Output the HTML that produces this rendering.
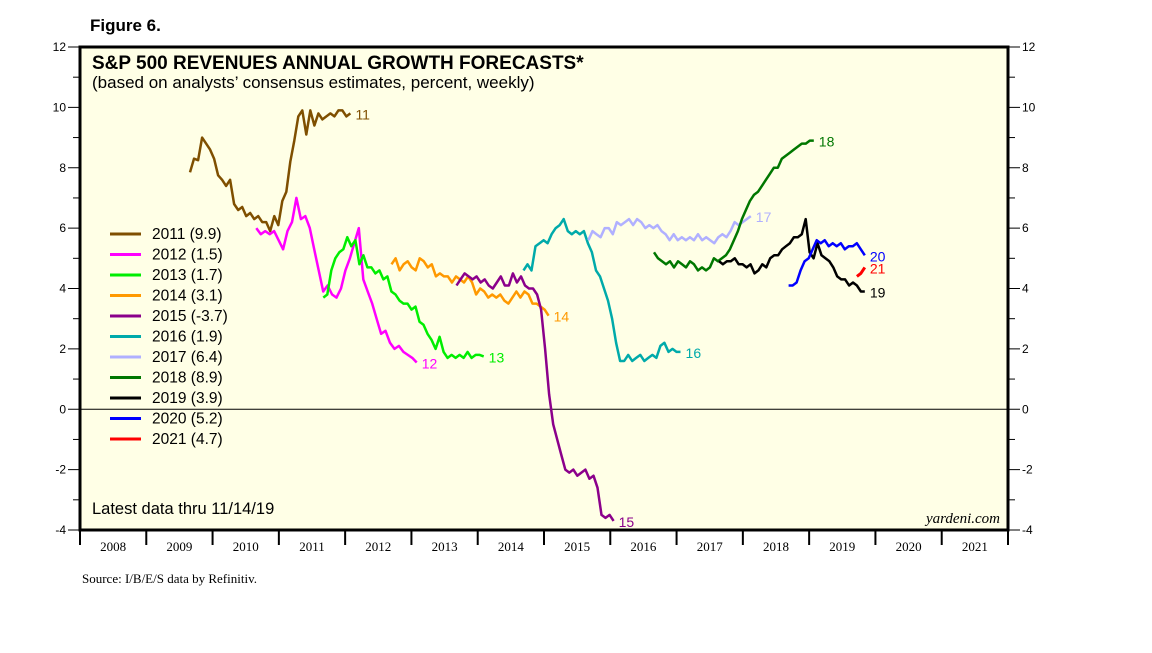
<!DOCTYPE html>
<html><head><meta charset="utf-8"><style>
body{margin:0;background:#fff;}
svg text{font-family:"Liberation Sans",sans-serif;}
</style></head><body>
<svg id="c" width="1152" height="648" viewBox="0 0 1152 648" xmlns="http://www.w3.org/2000/svg">
<rect x="80" y="47" width="928" height="483" fill="#ffffe6"/>
<text x="90" y="31" font-size="17" font-weight="bold">Figure 6.</text>
<text x="92" y="69" font-size="19" font-weight="bold">S&amp;P 500 REVENUES ANNUAL GROWTH FORECASTS*</text>
<text x="92" y="88" font-size="17">(based on analysts’ consensus estimates, percent, weekly)</text>
<text x="92" y="514" font-size="16.5">Latest data thru 11/14/19</text>
<text x="1000" y="523" font-size="15" font-style="italic" text-anchor="end" style="font-family:'Liberation Serif',serif">yardeni.com</text>
<text x="82" y="583" font-size="13" style="font-family:'Liberation Serif',serif">Source: I/B/E/S data by Refinitiv.</text>
<g id="g"></g>
<rect x="80" y="47" width="928" height="483" fill="none" stroke="#000" stroke-width="3"/>
</svg>
<script>
const yTicks=[-4,-2,0,2,4,6,8,10,12];
const years=[2008,2009,2010,2011,2012,2013,2014,2015,2016,2017,2018,2019,2020,2021];
const names=["2011 (9.9)","2012 (1.5)","2013 (1.7)","2014 (3.1)","2015 (-3.7)","2016 (1.9)","2017 (6.4)","2018 (8.9)","2019 (3.9)","2020 (5.2)","2021 (4.7)"];
const endLabels=["11","12","13","14","15","16","17","18","19","20","21"];
const colors=["#7f4f00","#ff00ff","#00ee00","#ff9900","#8b008b","#00aaaa","#b0b0ff","#007700","#000000","#0000ff","#ff0000"];
const spans=[[2009.66,2012.08],[2010.66,2013.08],[2011.67,2014.09],[2012.70,2015.07],[2013.68,2016.05],[2014.69,2017.06],[2015.67,2018.12],[2016.66,2019.07],[2017.64,2019.84],[2018.69,2019.84],[2019.72,2019.84]];
const s2011=[7.85,8.3,8.25,9.0,8.8,8.6,8.3,7.75,7.6,7.4,7.6,6.8,6.6,6.7,6.4,6.5,6.3,6.4,6.2,6.2,5.9,6.4,6.1,6.9,7.2,8.2,8.9,9.7,9.9,9.1,9.9,9.4,9.8,9.6,9.7,9.8,9.7,9.9,9.9,9.7,9.8];
const s2012=[6.0,5.8,5.9,5.8,5.9,5.6,5.3,5.9,6.2,7.0,6.3,6.4,6.0,5.3,4.6,3.9,4.1,3.8,3.7,4.0,4.6,5.0,5.5,6.0,4.3,3.9,3.5,3.0,2.5,2.6,2.2,2.0,2.1,1.9,1.8,1.7,1.55];
const s2013=[3.7,3.8,4.6,5.0,5.2,5.3,5.7,5.4,5.6,4.8,5.1,4.7,4.7,4.5,4.6,4.3,4.4,3.9,3.8,3.6,3.5,3.5,3.3,3.4,2.9,2.8,2.5,2.3,2.0,2.4,1.9,1.7,1.8,1.7,1.8,1.7,1.9,1.7,1.8,1.8,1.75];
const s2014=[4.8,5.0,4.6,4.8,4.9,4.7,4.6,5.0,4.9,4.7,4.8,4.4,4.5,4.4,4.4,4.2,4.4,4.3,4.2,4.4,4.2,3.8,4.0,3.9,3.7,3.8,3.7,3.8,3.6,3.5,3.7,3.9,3.7,3.9,3.8,3.5,3.5,3.4,3.3,3.1];
const s2015=[4.1,4.3,4.5,4.4,4.3,4.4,4.2,4.3,4.1,4.0,4.2,4.4,4.1,4.1,4.5,4.2,4.4,4.1,4.0,4.0,3.8,3.3,2.0,0.5,-0.5,-1.0,-1.5,-2.0,-2.1,-2.0,-2.2,-2.1,-2.0,-2.3,-2.2,-2.6,-3.5,-3.6,-3.5,-3.7];
const s2016=[4.6,4.8,4.6,5.4,5.5,5.6,5.5,5.8,6.0,6.1,6.3,5.9,5.8,5.9,5.8,5.9,5.5,5.2,4.6,4.4,4.0,3.6,3.0,2.2,1.6,1.6,1.8,1.6,1.7,1.8,1.6,1.7,1.8,1.7,2.1,2.2,1.9,2.0,1.9,1.9];
const s2017=[5.6,5.9,5.8,5.7,6.0,6.0,5.8,6.2,6.1,6.2,6.3,6.1,6.3,6.2,6.0,6.1,6.0,6.1,5.9,5.8,5.6,5.8,5.6,5.7,5.6,5.7,5.6,5.8,5.6,5.7,5.6,5.5,5.7,5.8,5.7,5.9,6.2,6.1,6.2,6.3,6.4];
const s2018=[5.2,5.0,4.9,4.8,4.9,4.7,4.9,4.8,4.7,4.9,4.8,4.6,4.7,4.6,4.7,5.0,4.9,5.0,5.1,5.3,5.6,5.9,6.3,6.6,6.9,7.1,7.2,7.4,7.6,7.8,8.0,8.0,8.3,8.4,8.5,8.6,8.7,8.8,8.8,8.9,8.9];
const s2019=[4.9,4.8,4.9,4.9,5.0,4.8,4.8,4.7,4.8,4.5,4.6,4.8,4.7,5.0,5.1,5.1,5.3,5.4,5.5,5.7,5.7,5.8,6.3,5.2,5.0,5.5,5.1,5.0,4.9,4.7,4.4,4.3,4.3,4.1,4.2,4.1,3.9,3.9];
const s2020=[4.1,4.1,4.2,4.6,4.9,5.0,5.3,5.6,5.5,5.6,5.4,5.5,5.4,5.5,5.3,5.4,5.4,5.5,5.3,5.1];
const s2021=[4.4,4.5,4.7];
const series=[s2011,s2012,s2013,s2014,s2015,s2016,s2017,s2018,s2019,s2020,s2021];

const L=80,R=1008,T=47,B=530,Y0=-4,Y1=12,X0=2008,X1=2022;
const xs=t=>L+(t-X0)/(X1-X0)*(R-L);
const ys=v=>B-(v-Y0)/(Y1-Y0)*(B-T);
const g=document.getElementById('g');
const NS="http://www.w3.org/2000/svg";
function mk(tag,attrs,parent){const e=document.createElementNS(NS,tag);for(const k in attrs)e.setAttribute(k,attrs[k]);(parent||g).appendChild(e);return e;}

const z=mk('line',{x1:L,x2:R,y1:ys(0),y2:ys(0),stroke:'#000','stroke-width':1});



for(let v=Y0;v<=Y1;v++){
  const major=v%2===0;
  const len=major?12:7;
  const a=mk('line',{x1:L-len,x2:L,y1:ys(v),y2:ys(v),stroke:'#000','stroke-width':1});
  
  
  const b=mk('line',{x1:R,x2:R+len,y1:ys(v),y2:ys(v),stroke:'#000','stroke-width':1});
  
  
}
yTicks.forEach(v=>{
  const t1=mk('text',{x:L-14,y:ys(v)+4,'font-size':12,'text-anchor':'end'});
  t1.textContent=v;
  
  
  const t2=mk('text',{x:R+14,y:ys(v)+4,'font-size':12});
  t2.textContent=v;
  
  
});
for(let i=0;i<=years.length;i++){
  const x=xs(X0+i);
  const l=mk('line',{x1:x,x2:x,y1:B,y2:B+15,stroke:'#000','stroke-width':2});
  
  
}
years.forEach(y=>{
  const t=mk('text',{x:xs(y+0.5),y:B+21,'font-size':13,'text-anchor':'middle',style:"font-family:'Liberation Serif',serif"});
  t.textContent=y;
  
  
});
series.forEach((s,i)=>{
  const [a,b]=spans[i];
  const n=s.length;
  const pts=s.map((v,j)=>{const t=a+(b-a)*(n>1?j/(n-1):0);return xs(t).toFixed(1)+','+ys(v).toFixed(1);}).join(' ');
  const p=mk('polyline',{points:pts,fill:'none',stroke:colors[i],'stroke-width':i===10?3:2.5,'stroke-linejoin':'round'});
  
  
  const t=mk('text',{x:xs(b)+5,y:ys(s[n-1])+6,'font-size':14,fill:colors[i]});
  t.textContent=endLabels[i];
  
  
});
names.forEach((nm,i)=>{
  const y=234+i*20.5;
  const l=mk('line',{x1:110,x2:141,y1:y,y2:y,stroke:colors[i],'stroke-width':3});
  
  
  const t=mk('text',{x:152,y:y+5,'font-size':15.5});
  t.textContent=nm;
  
  
});
</script>
</body></html>
